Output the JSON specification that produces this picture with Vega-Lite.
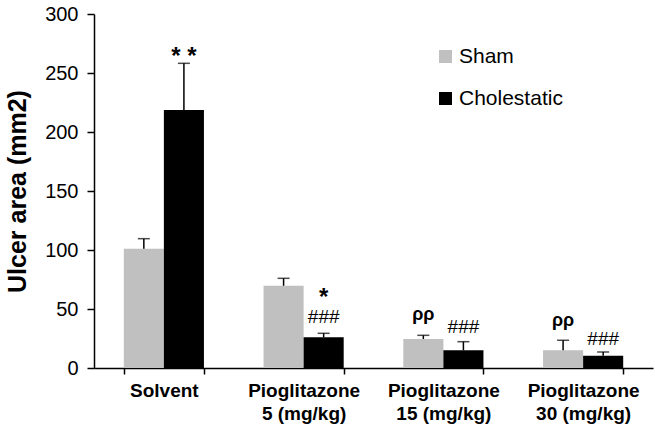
{
  "$schema": "https://vega.github.io/schema/vega-lite/v6.json",
  "width": 559,
  "height": 354,
  "autosize": {"type": "none"},
  "padding": {"left": 94, "top": 14, "right": 2, "bottom": 63},
  "background": "white",
  "config": {
    "view": {"stroke": null},
    "font": "Liberation Sans",
    "axis": {"grid": false, "domainColor": "black", "tickColor": "black", "labelColor": "black", "titleColor": "black", "domainWidth": 1.5, "tickWidth": 1.5}
  },
  "datasets": {
    "bars": [
      {"group": "Solvent", "series": "Sham", "value": 101, "err": 109.6},
      {"group": "Solvent", "series": "Cholestatic", "value": 218.6, "err": 258.2},
      {"group": "Pioglitazone|5 (mg/kg)", "series": "Sham", "value": 69.7, "err": 76},
      {"group": "Pioglitazone|5 (mg/kg)", "series": "Cholestatic", "value": 26, "err": 29.4},
      {"group": "Pioglitazone|15 (mg/kg)", "series": "Sham", "value": 24.6, "err": 27.7},
      {"group": "Pioglitazone|15 (mg/kg)", "series": "Cholestatic", "value": 15, "err": 22.3},
      {"group": "Pioglitazone|30 (mg/kg)", "series": "Sham", "value": 15, "err": 23.5},
      {"group": "Pioglitazone|30 (mg/kg)", "series": "Cholestatic", "value": 10.4, "err": 13.6}
    ],
    "notes": [
      {"group": "Solvent", "series": "Cholestatic", "y": 258, "label": "* *", "kind": "star"},
      {"group": "Pioglitazone|5 (mg/kg)", "series": "Cholestatic", "y": 53, "label": "*", "kind": "star"},
      {"group": "Pioglitazone|5 (mg/kg)", "series": "Cholestatic", "y": 38, "label": "###", "kind": "hash"},
      {"group": "Pioglitazone|15 (mg/kg)", "series": "Sham", "y": 40.5, "label": "ρρ", "kind": "rho"},
      {"group": "Pioglitazone|15 (mg/kg)", "series": "Cholestatic", "y": 29.6, "label": "###", "kind": "hash"},
      {"group": "Pioglitazone|30 (mg/kg)", "series": "Sham", "y": 35.5, "label": "ρρ", "kind": "rho"},
      {"group": "Pioglitazone|30 (mg/kg)", "series": "Cholestatic", "y": 19.2, "label": "###", "kind": "hash"}
    ]
  },
  "encoding": {
    "x": {
      "field": "group", "type": "nominal",
      "sort": ["Solvent", "Pioglitazone|5 (mg/kg)", "Pioglitazone|15 (mg/kg)", "Pioglitazone|30 (mg/kg)"],
      "scale": {"paddingInner": 0.4265, "paddingOuter": 0.21325},
      "axis": {"title": null, "labelExpr": "split(datum.label, '|')", "labelFontSize": 19, "labelFontWeight": "bold", "labelLineHeight": 23, "tickBand": "extent", "tickSize": 6, "labelPadding": 7, "labelAngle": 0}
    },
    "xOffset": {"field": "series", "type": "nominal", "sort": ["Sham", "Cholestatic"]}
  },
  "layer": [
    {
      "data": {"name": "bars"},
      "mark": {"type": "bar"},
      "encoding": {
        "y": {
          "field": "value", "type": "quantitative",
          "scale": {"domain": [0, 300]},
          "axis": {"title": "Ulcer area (mm2)", "titleFontSize": 25, "titleFontWeight": "bold", "titlePadding": 14, "labelFontSize": 20, "tickSize": 7, "labelPadding": 9, "values": [0, 50, 100, 150, 200, 250, 300]}
        },
        "color": {
          "field": "series", "type": "nominal",
          "scale": {"domain": ["Sham", "Cholestatic"], "range": ["#c0c0c0", "#000000"]},
          "legend": {"title": null, "orient": "none", "legendX": 341, "legendY": 32, "symbolType": "square", "symbolSize": 169, "labelFontSize": 21, "rowPadding": 20, "labelOffset": 3, "symbolStrokeWidth": 0, "padding": 0}
        }
      }
    },
    {
      "data": {"name": "bars"},
      "mark": {"type": "rule", "color": "black", "strokeWidth": 1.5},
      "encoding": {
        "y": {"field": "value", "type": "quantitative"},
        "y2": {"field": "err"}
      }
    },
    {
      "data": {"name": "bars"},
      "mark": {"type": "tick", "color": "black", "thickness": 1.5, "size": 12},
      "encoding": {
        "y": {"field": "err", "type": "quantitative"}
      }
    },
    {
      "data": {"name": "notes"},
      "transform": [{"filter": "datum.kind == 'star'"}],
      "mark": {"type": "text", "fontSize": 24, "fontWeight": "bold", "baseline": "alphabetic", "align": "center", "color": "black"},
      "encoding": {
        "y": {"field": "y", "type": "quantitative"},
        "text": {"field": "label"}
      }
    },
    {
      "data": {"name": "notes"},
      "transform": [{"filter": "datum.kind == 'rho'"}],
      "mark": {"type": "text", "fontSize": 18, "fontWeight": "bold", "baseline": "alphabetic", "align": "center", "color": "black"},
      "encoding": {
        "y": {"field": "y", "type": "quantitative"},
        "text": {"field": "label"}
      }
    },
    {
      "data": {"name": "notes"},
      "transform": [{"filter": "datum.kind == 'hash'"}],
      "mark": {"type": "text", "fontSize": 19, "baseline": "alphabetic", "align": "center", "color": "black"},
      "encoding": {
        "y": {"field": "y", "type": "quantitative"},
        "text": {"field": "label"}
      }
    }
  ]
}
